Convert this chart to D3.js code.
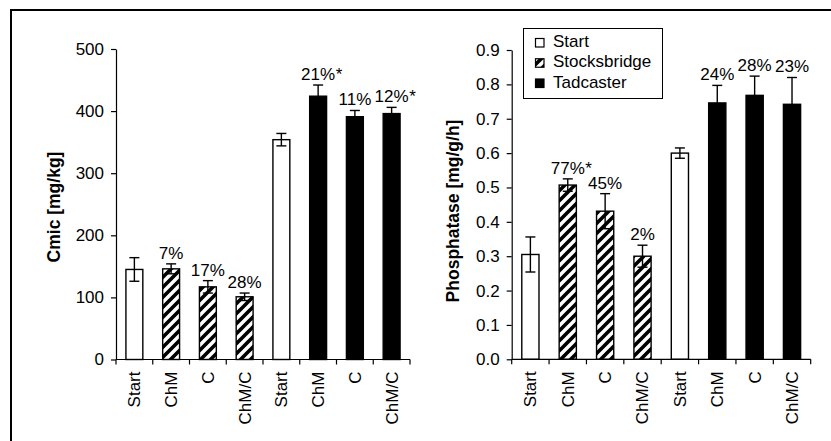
<!DOCTYPE html>
<html>
<head>
<meta charset="utf-8">
<script src="https://cdn.jsdelivr.net/npm/d3@7"></script>
<style>
  html, body { margin: 0; padding: 0; background: #fff; }
  svg { display: block; font-family: "Liberation Sans", Arial, sans-serif; }
</style>
</head>
<body>
<svg id="chart" width="831" height="441"></svg>
<script>
// ---- data ----
const categories = ["Start", "ChM", "C", "ChM/C", "Start", "ChM", "C", "ChM/C"];
const groups = ["Start", "Stocksbridge", "Stocksbridge", "Stocksbridge", "Start", "Tadcaster", "Tadcaster", "Tadcaster"];
const cmicValues = [145, 146, 117, 101, 354, 424, 391, 396];
const cmicErrors = [19, 8, 10, 6, 10, 18, 10, 10];
const cmicLabels = ["", "7%", "17%", "28%", "", "21%*", "11%", "12%*"];
const cmicTicks = [0, 100, 200, 300, 400, 500];
const phosValues = [0.305, 0.507, 0.431, 0.300, 0.600, 0.746, 0.768, 0.742];
const phosErrors = [0.051, 0.018, 0.051, 0.032, 0.015, 0.051, 0.056, 0.078];
const phosLabels = ["", "77%*", "45%", "2%", "", "24%", "28%", "23%"];
const phosTicks = [0, 0.1, 0.2, 0.3, 0.4, 0.5, 0.6, 0.7, 0.8, 0.9];
const legendItems = ["Start", "Stocksbridge", "Tadcaster"];

const svg = d3.select("#chart");
const FS = 17;

// hatch pattern
const defs = svg.append("defs");
const pat = defs.append("pattern").attr("id", "hatch")
  .attr("patternUnits", "userSpaceOnUse").attr("width", 10).attr("height", 10);
pat.append("rect").attr("width", 10).attr("height", 10).attr("fill", "#fff");
pat.append("path").attr("d", "M-2,2 L2,-2 M0,10 L10,0 M8,12 L12,8")
  .attr("stroke", "#000").attr("stroke-width", 3.6).attr("fill", "none");

const fillFor = g => g === "Start" ? "#fff" : g === "Stocksbridge" ? "url(#hatch)" : "#000";

// outer frame
svg.append("rect").attr("x", 11).attr("y", 10).attr("width", 900).attr("height", 600)
  .attr("fill", "none").attr("stroke", "#000").attr("stroke-width", 2);

defs.append("clipPath").attr("id", "clipL").append("rect")
  .attr("x", 0).attr("y", 0).attr("width", 421).attr("height", 441);

function panel(opts) {
  const g = svg.append("g");
  if (opts.clip) g.attr("clip-path", "url(#" + opts.clip + ")");
  const idx = categories.map((d, i) => i);
  const x = d3.scaleBand().domain(idx).range(opts.xr).paddingInner(0.54).paddingOuter(0.27);
  const y = d3.scaleLinear().domain(opts.yd).range(opts.yr);
  const step = x.step();
  const x0 = opts.xr[0];

  // bars
  g.selectAll("rect.bar").data(idx).join("rect").attr("class", "bar")
    .attr("x", i => x(i)).attr("width", x.bandwidth())
    .attr("y", i => y(opts.values[i])).attr("height", i => y(0) - y(opts.values[i]))
    .attr("fill", i => fillFor(groups[i])).attr("stroke", "#000").attr("stroke-width", 1.4);

  // error bars
  const cap = 5;
  idx.forEach(i => {
    const cx = x(i) + x.bandwidth() / 2;
    const v = opts.values[i], e = opts.errors[i];
    const eb = g.append("g").attr("stroke", "#000").attr("stroke-width", 1.4);
    eb.append("line").attr("x1", cx).attr("x2", cx).attr("y1", y(v + e)).attr("y2", y(v - e));
    eb.append("line").attr("x1", cx - cap).attr("x2", cx + cap).attr("y1", y(v + e)).attr("y2", y(v + e));
    eb.append("line").attr("x1", cx - cap).attr("x2", cx + cap).attr("y1", y(v - e)).attr("y2", y(v - e));
    // labels
    const lab = opts.labels[i];
    if (lab) {
      const main = lab.replace("*", "");
      const ly = y(v + e) - 5;
      const t = g.append("text").attr("x", cx).attr("y", ly).attr("text-anchor", "middle")
        .attr("font-size", FS).text(main);
      if (lab.indexOf("*") >= 0) {
        const w = t.node().getComputedTextLength();
        g.append("text").attr("x", cx + w / 2 + 0.5).attr("y", ly).attr("font-size", FS).text("*");
      }
    }
  });

  // y axis
  const ya = g.append("g").attr("transform", `translate(${x0},0)`)
    .call(d3.axisLeft(y).tickValues(opts.ticks).tickFormat(opts.fmt).tickSize(5).tickSizeOuter(0).tickPadding(7));
  ya.selectAll("text").attr("font-size", FS).attr("font-family", "Liberation Sans, Arial, sans-serif").attr("fill", "#000");
  ya.selectAll("line,path").attr("stroke", "#000").attr("stroke-width", 1.2);

  // x axis
  const xa = g.append("g");
  xa.append("line").attr("x1", x0).attr("x2", opts.xr[1]).attr("y1", y(0)).attr("y2", y(0))
    .attr("stroke", "#000").attr("stroke-width", 1.2);
  xa.selectAll("line.tk").data(d3.range(categories.length + 1)).join("line").attr("class", "tk")
    .attr("x1", k => x0 + k * step).attr("x2", k => x0 + k * step)
    .attr("y1", y(0)).attr("y2", y(0) + 5).attr("stroke", "#000").attr("stroke-width", 1.2);
  xa.selectAll("text").data(idx).join("text")
    .attr("transform", i => `translate(${x(i) + x.bandwidth() / 2},${y(0) + 12}) rotate(-90)`)
    .attr("text-anchor", "end").attr("dy", "0.35em").attr("font-size", FS).text(i => categories[i]);

  // y title
  g.append("text").attr("transform", `translate(${opts.titleX},${opts.titleY}) rotate(-90)`)
    .attr("text-anchor", "middle").attr("font-weight", "bold").attr("font-size", 17.5).text(opts.title);
  return g;
}

panel({
  xr: [116, 410], yd: [0, 500], yr: [359.5, 49], values: cmicValues, errors: cmicErrors,
  labels: cmicLabels, ticks: cmicTicks, fmt: d3.format("d"), title: "Cmic [mg/kg]",
  titleX: 59.5, titleY: 207, clip: "clipL"
});
panel({
  xr: [511.7, 810.7], yd: [0, 0.9], yr: [359.3, 50], values: phosValues, errors: phosErrors,
  labels: phosLabels, ticks: phosTicks, fmt: d3.format(".1f"), title: "Phosphatase [mg/g/h]",
  titleX: 459, titleY: 211
});

// legend
const lg = svg.append("g");
lg.append("rect").attr("x", 523.5).attr("y", 28.5).attr("width", 139).attr("height", 70)
  .attr("fill", "#fff").attr("stroke", "#000").attr("stroke-width", 1);
const ly = d3.scalePoint().domain(legendItems).range([47, 87.5]);
legendItems.forEach(name => {
  lg.append("rect").attr("x", 535.5).attr("y", ly(name) - 8.5).attr("width", 8.5).attr("height", 8.5)
    .attr("fill", fillFor(name)).attr("stroke", "#000").attr("stroke-width", 1.2);
  lg.append("text").attr("x", 553).attr("y", ly(name)).attr("font-size", FS).text(name);
});
</script>
</body>
</html>
